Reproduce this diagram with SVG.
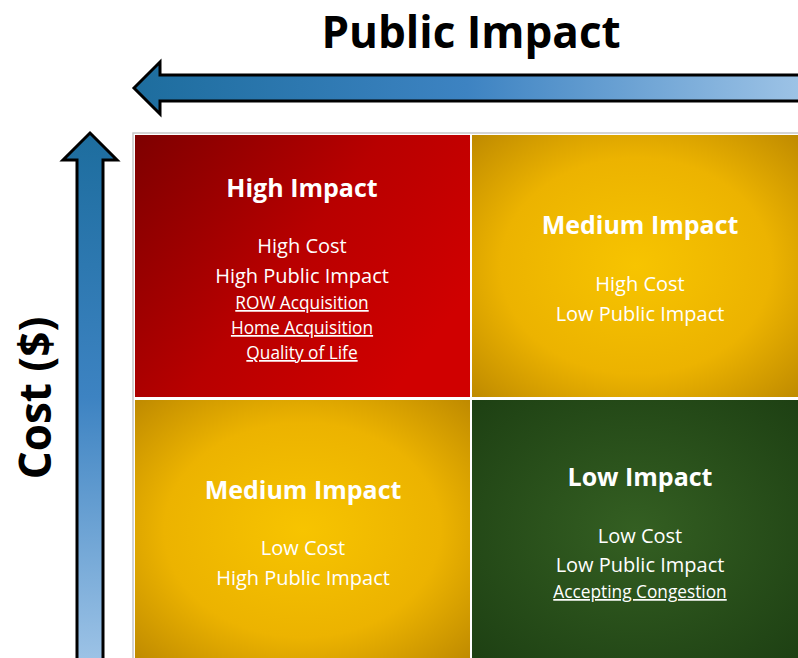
<svg xmlns="http://www.w3.org/2000/svg" width="798" height="658" viewBox="0 0 798 658">
<style>
text{font-family:"Open Sans","Noto Sans",sans-serif;fill:#fff;text-anchor:middle}
.t{font-weight:bold;font-size:25px}
.b{font-size:20px}
.u{font-size:17.3px;text-decoration:underline}
.ax{fill:#000;font-weight:bold;font-size:44px}
</style>
<defs>
<linearGradient id="ha" x1="0" y1="0" x2="1" y2="0"><stop offset="0" stop-color="#1d6d9e"/><stop offset="0.5" stop-color="#3d83c2"/><stop offset="1" stop-color="#9dc3e6"/></linearGradient>
<linearGradient id="va" x1="0" y1="0" x2="0" y2="1"><stop offset="0" stop-color="#1d6d9e"/><stop offset="0.5" stop-color="#3d83c2"/><stop offset="1" stop-color="#9dc3e6"/></linearGradient>
<linearGradient id="red" x1="0" y1="0" x2="1" y2="0.6"><stop offset="0" stop-color="#7e0000"/><stop offset="0.55" stop-color="#b80000"/><stop offset="1" stop-color="#d00000"/></linearGradient>
<radialGradient id="yel" cx="0.5" cy="0.5" r="0.75"><stop offset="0" stop-color="#f7c400"/><stop offset="0.55" stop-color="#ecb300"/><stop offset="1" stop-color="#b88400"/></radialGradient>
<radialGradient id="grn" cx="0.5" cy="0.5" r="0.75"><stop offset="0" stop-color="#345f22"/><stop offset="1" stop-color="#1c3e12"/></radialGradient>
</defs>
<g id="axis-public">
<text class="ax" x="471" y="48">Public Impact</text>
<path d="M134,88 L160,62 L160,75 L800,75 L800,101 L160,101 L160,114 Z" fill="url(#ha)" stroke="#000" stroke-width="3" stroke-linejoin="miter"/>
</g>
<g id="axis-cost">
<text class="ax" transform="translate(51,398) rotate(-90)">Cost ($)</text>
<path d="M90,133 L117,160 L103,160 L103,662 L77,662 L77,160 L63,160 Z" fill="url(#va)" stroke="#000" stroke-width="3"/>
</g>
<rect x="133" y="133" width="667" height="527" fill="#fff" stroke="#c8c8c8" stroke-width="1.5"/>
<g id="high-impact">
<rect x="135" y="135" width="335" height="262" fill="url(#red)"/>
<text class="t" x="302" y="197">High Impact</text>
<text class="b" x="302" y="253">High Cost</text>
<text class="b" x="302" y="283">High Public Impact</text>
<text class="u" x="302" y="309">ROW Acquisition</text>
<text class="u" x="302" y="334">Home Acquisition</text>
<text class="u" x="302" y="359">Quality of Life</text>
</g>
<g id="medium-impact-top">
<rect x="472" y="135" width="328" height="262" fill="url(#yel)"/>
<text class="t" x="640" y="234">Medium Impact</text>
<text class="b" x="640" y="291">High Cost</text>
<text class="b" x="640" y="321">Low Public Impact</text>
</g>
<g id="medium-impact-bottom">
<rect x="135" y="400" width="335" height="260" fill="url(#yel)"/>
<text class="t" x="303" y="499">Medium Impact</text>
<text class="b" x="303" y="555">Low Cost</text>
<text class="b" x="303" y="585">High Public Impact</text>
</g>
<g id="low-impact">
<rect x="472" y="400" width="328" height="260" fill="url(#grn)"/>
<text class="t" x="640" y="486">Low Impact</text>
<text class="b" x="640" y="543">Low Cost</text>
<text class="b" x="640" y="572">Low Public Impact</text>
<text class="u" x="640" y="598">Accepting Congestion</text>
</g>
<g id="connectors"/>
</svg>
